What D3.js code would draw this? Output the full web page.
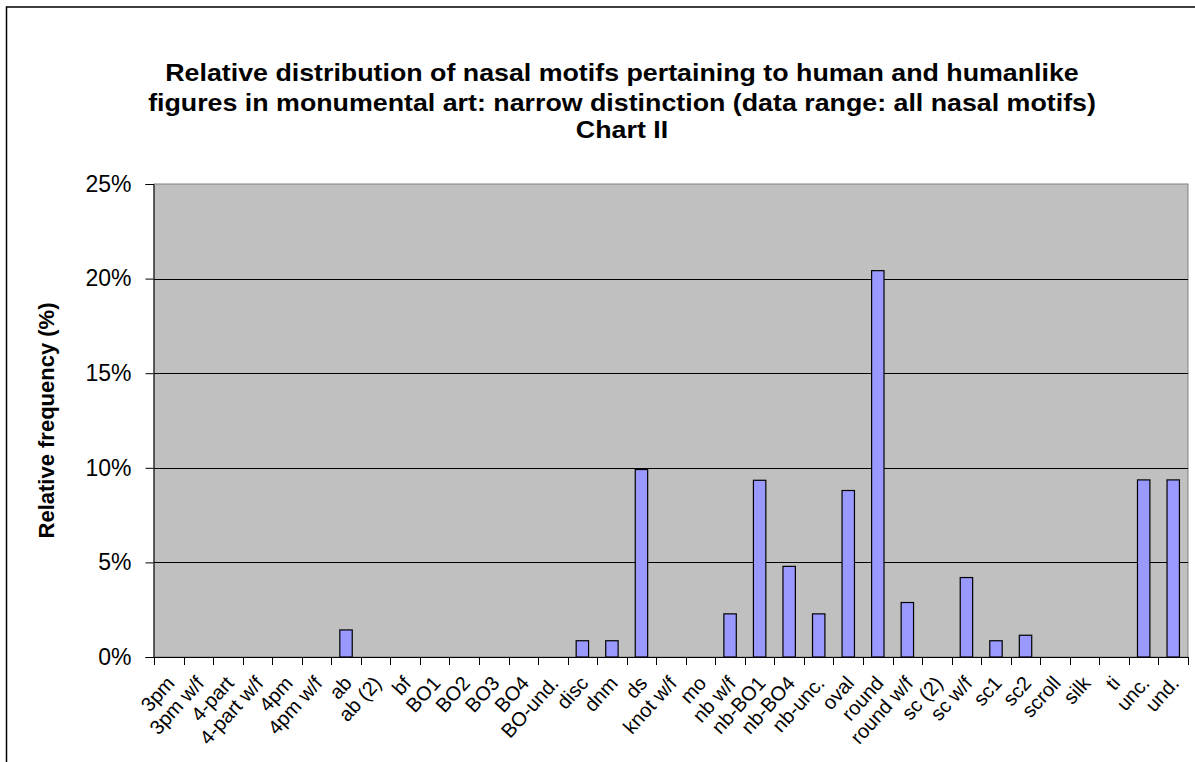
<!DOCTYPE html>
<html>
<head>
<meta charset="utf-8">
<script src="https://cdn.jsdelivr.net/npm/d3@7"></script>
<style>
  html, body { margin: 0; padding: 0; background: #fff; }
  svg { display: block; font-family: "Liberation Sans", Arial, sans-serif; }
</style>
</head>
<body>
<svg id="chart" width="1195" height="762"></svg>
<script>
const categories = ["3pm", "3pm w/f", "4-part", "4-part w/f", "4pm", "4pm w/f", "ab", "ab (2)", "bf",
  "BO1", "BO2", "BO3", "BO4", "BO-und.", "disc", "dnm", "ds", "knot w/f", "mo", "nb w/f", "nb-BO1",
  "nb-BO4", "nb-unc.", "oval", "round", "round w/f", "sc (2)", "sc w/f", "sc1", "sc2", "scroll",
  "silk", "ti", "unc.", "und."];
const values = [0, 0, 0, 0, 0, 0, 1.43, 0, 0,
  0, 0, 0, 0, 0, 0.86, 0.86, 9.91, 0, 0, 2.28, 9.34,
  4.79, 2.28, 8.80, 20.42, 2.88, 0, 4.20, 0.86, 1.15, 0,
  0, 0, 9.36, 9.36];
const yTicks = [0, 5, 10, 15, 20, 25];
const titleLines = [
  "Relative distribution of nasal motifs pertaining to human and humanlike",
  "figures in monumental art: narrow distinction (data range: all nasal motifs)",
  "Chart II"
];
const yTitle = "Relative frequency (%)";

const svg = d3.select("#chart");
const W = 1195, H = 762;
const m = { left: 154, right: 1188, top: 184, bottom: 657 };

// outer frame
svg.append("rect").attr("x", 6.5).attr("y", 7).attr("width", W + 10).attr("height", H + 10)
  .attr("fill", "#fff").attr("stroke", "#000").attr("stroke-width", 1.5);

const x = d3.scaleBand().domain(categories).range([m.left, m.right]).paddingInner(0.58).paddingOuter(0.29);
const xb = d3.scaleBand().domain(categories).range([m.left, m.right]);
const y = d3.scaleLinear().domain([0, 25]).range([m.bottom, m.top]);

// plot background
svg.append("rect").attr("x", m.left).attr("y", m.top)
  .attr("width", m.right - m.left).attr("height", m.bottom - m.top)
  .attr("fill", "#C0C0C0").attr("stroke", "#808080").attr("stroke-width", 1);

// gridlines
svg.append("g").selectAll("line").data(yTicks.filter(d => d > 0 && d < 25)).join("line")
  .attr("x1", m.left).attr("x2", m.right)
  .attr("y1", d => Math.round(y(d)) + 0.5).attr("y2", d => Math.round(y(d)) + 0.5)
  .attr("stroke", "#000").attr("stroke-width", 1);

// bars
svg.append("g").selectAll("rect").data(categories.map((c, i) => ({ c, v: values[i] })).filter(d => d.v > 0))
  .join("rect")
  .attr("x", d => x(d.c)).attr("width", x.bandwidth())
  .attr("y", d => y(d.v)).attr("height", d => y(0) - y(d.v))
  .attr("fill", "#9999FF").attr("stroke", "#000").attr("stroke-width", 1.2);

// y axis
const yAxis = d3.axisLeft(y).tickValues(yTicks).tickFormat(d => d + "%").tickSize(8).tickPadding(14);
const gy = svg.append("g").attr("transform", `translate(${m.left - 0.5},0)`).call(yAxis);
gy.select(".domain").attr("stroke", "#000");
gy.selectAll(".tick line").attr("stroke", "#000");
gy.selectAll(".tick text").attr("font-size", 23).attr("fill", "#000")
  .attr("font-family", "'Liberation Sans', Arial, sans-serif");

// x axis: ticks at category boundaries
const boundaries = categories.map(c => xb(c)).concat([m.right]);
const gx = svg.append("g");
gx.append("line").attr("x1", m.left).attr("x2", m.right).attr("y1", m.bottom + 0.5).attr("y2", m.bottom + 0.5)
  .attr("stroke", "#000");
gx.selectAll("line.tk").data(boundaries).join("line").attr("class", "tk")
  .attr("x1", d => Math.round(d) + 0.5).attr("x2", d => Math.round(d) + 0.5)
  .attr("y1", m.bottom).attr("y2", m.bottom + 8).attr("stroke", "#000");
gx.selectAll("text").data(categories).join("text")
  .attr("transform", d => `translate(${xb(d) + xb.bandwidth() / 2 + 7},${m.bottom + 27}) rotate(-48)`)
  .attr("text-anchor", "end").attr("font-size", 20).attr("fill", "#000")
  .text(d => d);

// titles (slightly widened glyphs as in the reference)
svg.append("g").selectAll("text").data(titleLines).join("text")
  .attr("transform", (d, i) => `translate(622,${[81, 111, 138][i]}) scale(1.165,1)`)
  .attr("text-anchor", "middle").attr("font-weight", "bold").attr("font-size", 23)
  .text(d => d);

svg.append("text")
  .attr("transform", `translate(54,${(m.top + m.bottom) / 2}) rotate(-90)`)
  .attr("text-anchor", "middle").attr("font-weight", "bold").attr("font-size", 22)
  .text(yTitle);
</script>
</body>
</html>
